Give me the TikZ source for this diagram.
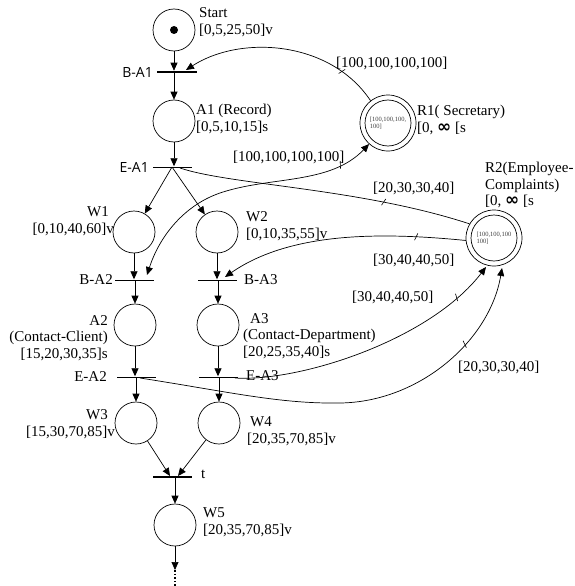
\documentclass[tikz,border=0pt]{standalone}
\usepackage{fontspec}
\setmainfont{Liberation Serif}
\newfontfamily\labsans{Open Sans}
\newfontfamily\symfont{DejaVu Sans}
\newcommand{\infsym}{{\symfont\bfseries\fontsize{17}{16}\selectfont ∞}}
\usetikzlibrary{arrows.meta,decorations.markings}
\begin{document}
\begin{tikzpicture}[x=1pt,y=-1pt,
 place/.style={circle,draw,line width=0.7pt,minimum size=42pt,inner sep=0pt},
 res/.style={circle,draw,line width=0.7pt,minimum size=56pt,inner sep=0pt,align=left,font=\fontsize{6.5}{7.5}\selectfont,text=black!75},
 tbar/.style={rectangle,fill=black,inner sep=0pt,minimum height=1pt,minimum width=39pt},
 arr/.style={-{Triangle[length=8pt,width=7pt]},line width=0.7pt},
 arrb/.style={{Triangle[length=8pt,width=7pt]}-{Triangle[length=8pt,width=7pt]},line width=0.7pt},
 lbl/.style={font=\fontsize{15}{16.5}\selectfont,inner sep=0pt},
 slbl/.style={font=\labsans\fontsize{14}{16}\selectfont,inner sep=0pt},
 tk/.style={postaction={decorate,decoration={markings,mark=at position #1 with {\draw[line width=0.6pt,-] (-1.5pt,-3.5pt) -- (1.5pt,3.5pt);}}}},
]
\useasboundingbox (0,0) rectangle (575,586);

% places
\node[place] (start) at (174,30) {};
\fill (start.center) circle[radius=4pt];
\node[place] (a1) at (174,121) {};
\node[place] (w1) at (134,232) {};
\node[place] (w2) at (217,232) {};
\node[place] (a2) at (135,325) {};
\node[place] (a3) at (218,325) {};
\node[place] (w3) at (136,423) {};
\node[place] (w4) at (219,423) {};
\node[place] (w5) at (175,525) {};

% resources
\node[res] (r1) at (388,123) {[100,100,100,\\{}100]};
\draw[line width=0.7pt] (r1.center) circle[radius=23pt];
\node[res] (r2) at (494,238) {[100,100,100\\{}100]};
\draw[line width=0.7pt] (r2.center) circle[radius=23pt];

% transitions
\node[tbar,minimum height=2.2pt,minimum width=40pt] (ba1) at (177,72) {};
\node[tbar] (ea1) at (172,167) {};
\node[tbar] (ba2) at (134,280) {};
\node[tbar] (ba3) at (217,280) {};
\node[tbar] (ea2) at (136,377) {};
\node[tbar] (ea3) at (218,377) {};
\node[tbar,minimum height=1.5pt] (tt) at (172,477) {};

% free ends
\coordinate (ba1in) at (186,70);
\coordinate (ba2in) at (147,275);
\coordinate (ba3in) at (225,277);
\coordinate (tin3) at (170,476);
\coordinate (tin4) at (178,476);
\coordinate (w5tip) at (175,570);
\coordinate (w5tail) at (175,586);
\coordinate (ea2out) at (140,378);
\coordinate (ea3out) at (235,378);
\coordinate (ea1out) at (180,168);
\coordinate (r2in3) at (486,267);
\coordinate (r2in2) at (502,268);

% main flow
\draw[arr] (start) -- (start |- ba1.north);
\draw[arr] (ba1.center -| a1) -- (a1);
\draw[arr] (a1) -- (a1 |- ea1.north);
\draw[arr] (ea1.center) -- (w1);
\draw[arr] (ea1.center) -- (w2);
\draw[arr] (w1) -- (w1 |- ba2.north);
\draw[arr] (w2) -- (w2 |- ba3.north);
\draw[arr] (ba2.center -| a2) -- (a2);
\draw[arr] (ba3.center -| a3) -- (a3);
\draw[arr] (a2) -- (a2 |- ea2.north);
\draw[arr] (a3) -- (a3 |- ea3.north);
\draw[arr] (ea2.center -| w3) -- (w3);
\draw[arr] (ea3.center -| w4) -- (w4);
\draw[arr] (w3) -- (tin3);
\draw[arr] (w4) -- (tin4);
\draw[arr] (tt.center -| w5) -- (w5);
\draw[arr] (w5) -- (w5tip);
\draw[line width=1.6pt,dotted] (w5tip) -- (w5tail);

% resource arcs
\draw[arr,tk=0.2] (r1.128) .. controls (330,40) and (240,35) .. (ba1in);
\draw[line width=0.7pt,tk=0.7] (ea1out) .. controls (230,185) and (360,188) .. (r2.150);
\draw[arrb,tk=0.87] (ba2in) .. controls (160,235) and (185,205) .. (220,193) .. controls (270,176) and (330,185) .. (r1.228);
\draw[arr,tk=0.2] (r2.185) .. controls (380,232) and (290,232) .. (ba3in);
\draw[arr,tk=0.85] (ea3out) .. controls (300,382) and (430,340) .. (r2in3);
\draw[arr,tk=0.8] (ea2out) .. controls (230,392) and (280,404) .. (340,403) .. controls (420,402) and (490,340) .. (r2in2);

% labels
\node[lbl,anchor=west,align=left] (lstart) at (199,22) {Start\\{}[0,5,25,50]v};
\node[lbl,anchor=west,align=left] (la1) at (196,119) {A1 (Record)\\{}[0,5,10,15]s};
\node[lbl,anchor=east,align=right] (lw1) at (114,221) {W1\hspace*{5pt}\\{}[0,10,40,60]v};
\node[lbl,anchor=west,align=left] (lw2) at (246,226) {W2\\{}[0,10,35,55]v};
\node[lbl,anchor=east,align=right] (la2) at (108,338) {A2\\(Contact-Client)\\{}[15,20,30,35]s};
\node[lbl,anchor=west,align=left] (la3) at (243,336) {\hspace*{7pt}A3\\(Contact-Department)\\{}[20,25,35,40]s};
\node[lbl,anchor=east,align=right] (lw3) at (115,424) {W3\hspace*{7pt}\\{}[15,30,70,85]v};
\node[lbl,anchor=west,align=left] (lw4) at (247,431) {\hspace*{3pt}W4\\{}[20,35,70,85]v};
\node[lbl,anchor=west,align=left] (lw5) at (203,522) {W5\\{}[20,35,70,85]v};
\node[lbl,anchor=west] (lt) at (201,474) {t};
\node[lbl,anchor=west,align=left] (lr1) at (417,120) {R1( Secretary)\\{}[0, \infsym{} [s};
\node[lbl,anchor=west,align=left] (lr2) at (485,185) {R2(Employee-\\Complaints)\\{}[0, \infsym{} [s};

\node[slbl,anchor=east] (lba1) at (153,72) {B-A1};
\node[slbl,anchor=east] (lea1) at (149,167) {E-A1};
\node[lbl,anchor=east] (lba2) at (113,280) {B-A2};
\node[lbl,anchor=west] (lba3) at (244,280) {B-A3};
\node[lbl,anchor=east] (lea2) at (107,377) {E-A2};
\node[lbl,anchor=west] (lea3) at (246,376) {E-A3};

% arc labels
\node[lbl,anchor=west] (e1) at (336,63) {[100,100,100,100]};
\node[lbl,anchor=west] (e2) at (233,157) {[100,100,100,100]};
\node[lbl,anchor=west] (e3) at (373,188) {[20,30,30,40]};
\node[lbl,anchor=west] (e4) at (373,260) {[30,40,40,50]};
\node[lbl,anchor=west] (e5) at (352,297) {[30,40,40,50]};
\node[lbl,anchor=west] (e6) at (458,367) {[20,30,30,40]};
\end{tikzpicture}
\end{document}
